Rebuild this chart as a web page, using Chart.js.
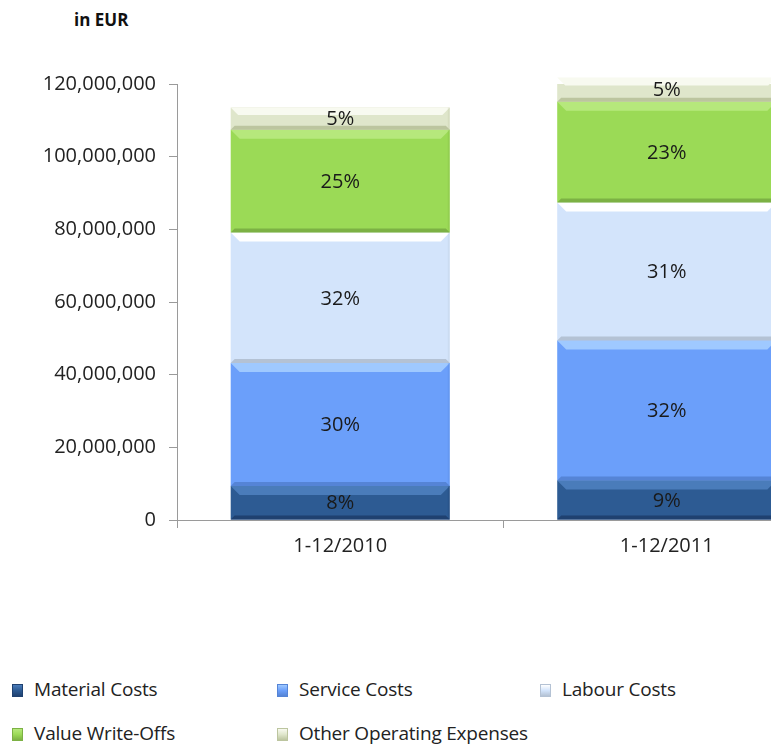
<!DOCTYPE html>
<html>
<head>
<meta charset="utf-8">
<script src="https://cdn.jsdelivr.net/npm/chart.js@4.4.1/dist/chart.umd.min.js"></script>
<style>
    body { margin: 0; background: #fff; font-family: 'Open Sans', sans-serif; }
    #wrap { position: relative; width: 771px; height: 744px; overflow: hidden; }
    #costChart { position: absolute; left: 0; top: 0; }
    .unit { position: absolute; left: 74px; top: 8px; font-weight: bold; font-size: 17px; color: #111; }
    .legend-item { position: absolute; font-size: 19px; color: #222; line-height: 24px; white-space: nowrap; letter-spacing: -0.2px; }
    .legend-item span.box { display: inline-block; width: 9px; height: 11px; margin-right: 11px; vertical-align: -1px; }
</style>
</head>
<body>
<div id="wrap">
    <div class="unit">in EUR</div>
    <canvas id="costChart" width="830" height="600"></canvas>
    <div id="legend"></div>
</div>
<script>
const periods = ['1-12/2010', '1-12/2011'];
const materialCosts = [9350000, 10900000];
const serviceCosts = [33850000, 38500000];
const labourCosts = [35900000, 38000000];
const valueWriteOffs = [28300000, 27700000];
const otherExpenses = [6100000, 6700000];
const shareLabels = {
    material: ['8%', '9%'],
    service: ['30%', '32%'],
    labour: ['32%', '31%'],
    writeOffs: ['25%', '23%'],
    other: ['5%', '5%']
};

const seriesDefs = [
    { label: 'Material Costs', data: materialCosts, pct: shareLabels.material, color: '#2d5b93', light: '#4a7cba', dark: '#1f4170' },
    { label: 'Service Costs', data: serviceCosts, pct: shareLabels.service, color: '#6b9ffa', light: '#9fc9ff', dark: '#5584d6' },
    { label: 'Labour Costs', data: labourCosts, pct: shareLabels.labour, color: '#d3e4fb', light: '#ffffff', dark: '#b4c2d4' },
    { label: 'Value Write-Offs', data: valueWriteOffs, pct: shareLabels.writeOffs, color: '#9bda56', light: '#b6e87c', dark: '#7cb144' },
    { label: 'Other Operating Expenses', data: otherExpenses, pct: shareLabels.other, color: '#dfe6cb', light: '#f8faf0', dark: '#bcc59f' }
];

// bevel look + percentage labels, drawn on top of the bar elements
const bevelPlugin = {
    id: 'bevel',
    afterDatasetsDraw(chart) {
        const ctx = chart.ctx;
        chart.data.datasets.forEach((ds, di) => {
            const def = seriesDefs[di];
            chart.getDatasetMeta(di).data.forEach((bar, i) => {
                const left = bar.x - bar.width / 2;
                const right = bar.x + bar.width / 2;
                const top = Math.min(bar.y, bar.base);
                const bottom = Math.max(bar.y, bar.base);
                const b = Math.min(9, (bottom - top) / 3);
                const b2 = Math.min(4, (bottom - top) / 5);
                ctx.save();
                ctx.fillStyle = def.light;
                ctx.beginPath();
                ctx.moveTo(left, top); ctx.lineTo(right, top);
                ctx.lineTo(right - b, top + b); ctx.lineTo(left + b, top + b);
                ctx.closePath(); ctx.fill();
                ctx.fillStyle = def.dark;
                ctx.beginPath();
                ctx.moveTo(left, bottom); ctx.lineTo(right, bottom);
                ctx.lineTo(right - b2, bottom - b2); ctx.lineTo(left + b2, bottom - b2);
                ctx.closePath(); ctx.fill();
                ctx.globalAlpha = 0.25;
                ctx.fillRect(right - 2, top, 2, bottom - top);
                ctx.globalAlpha = 1;
                ctx.fillStyle = '#1a1a1a';
                ctx.font = '20px "Open Sans"';
                ctx.textAlign = 'center';
                ctx.textBaseline = 'middle';
                ctx.fillText(def.pct[i], bar.x, (top + bottom) / 2 + 1);
                ctx.restore();
            });
        });
    }
};

const chart = new Chart(document.getElementById('costChart').getContext('2d'), {
    type: 'bar',
    data: {
        labels: periods,
        datasets: seriesDefs.map(s => ({
            label: s.label,
            data: s.data,
            backgroundColor: s.color,
            borderWidth: 0,
            barPercentage: 0.671,
            categoryPercentage: 1
        }))
    },
    options: {
        responsive: false,
        animation: false,
        layout: { padding: { top: 84, left: 0, right: 0, bottom: 0 } },
        plugins: { legend: { display: false }, tooltip: { enabled: false } },
        scales: {
            x: {
                stacked: true,
                offset: true,
                afterFit: scale => { scale.height = 80; },
                border: { color: '#9a9a9a', width: 1 },
                grid: { offset: true, drawOnChartArea: false, drawTicks: true, tickLength: 8, color: '#9a9a9a' },
                ticks: { color: '#222', font: { family: 'Open Sans', size: 20 }, padding: 6 }
            },
            y: {
                stacked: true,
                min: 0,
                max: 120000000,
                afterFit: scale => { scale.width = 177; },
                border: { color: '#9a9a9a', width: 1 },
                grid: { drawOnChartArea: false, drawTicks: true, tickLength: 8, color: '#9a9a9a' },
                ticks: {
                    stepSize: 20000000,
                    color: '#222',
                    padding: 13,
                    font: { family: 'Open Sans', size: 20 },
                    callback: v => v.toLocaleString('en-US')
                }
            }
        }
    },
    plugins: [bevelPlugin]
});

// legend laid out in fixed columns like the original
const legendPos = [[12, 677], [277, 677], [540, 677], [12, 721], [277, 721]];
const legendEl = document.getElementById('legend');
seriesDefs.forEach((s, i) => {
    const item = document.createElement('div');
    item.className = 'legend-item';
    item.style.left = legendPos[i][0] + 'px';
    item.style.top = legendPos[i][1] + 'px';
    item.innerHTML = `<span class="box" style="background: linear-gradient(${s.light}, ${s.color} 50%, ${s.dark}); border: 1px solid ${s.dark};"></span>${s.label}`;
    legendEl.appendChild(item);
});
</script>
</body>
</html>
